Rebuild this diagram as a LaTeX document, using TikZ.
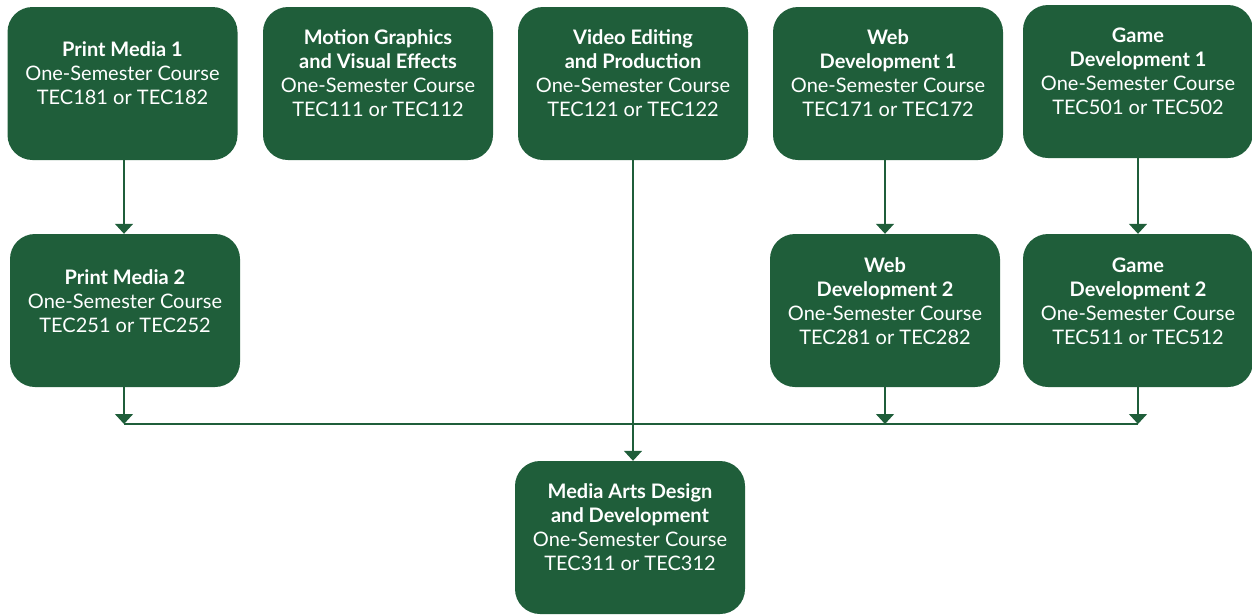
\documentclass[tikz,border=0pt]{standalone}
\usepackage{fontspec}
\setmainfont{Lato}
\usetikzlibrary{arrows.meta,positioning,calc}
\definecolor{course}{HTML}{1F5E3A}
\tikzset{
  x=1pt, y=-1pt,
  coursebox/.style={draw=none, fill=course, rounded corners=25pt,
    minimum width=230pt, minimum height=153pt, inner sep=0pt},
  coursetext/.style={text=white, align=center, inner sep=0pt,
    font=\fontsize{20}{24}\selectfont},
  link/.style={draw=course, line width=1.4pt,
    -{Triangle[width=18pt,length=10pt]}},
  busline/.style={draw=course, line width=1.4pt}
}
\newcommand{\crs}[3]{\textbf{#1}\\#2\\#3}
\begin{document}
\begin{tikzpicture}
\useasboundingbox (0,0) rectangle (1252,614);

% first row of courses
\node[coursebox] (pm1) at (122.5,83.5) {};
\node[coursebox] (mg)  at (378,83.5) {};
\node[coursebox] (ve)  at (633,83.5) {};
\node[coursebox] (wd1) at (888,83.5) {};
\node[coursebox] (gd1) at (1138,81.5) {};

% second row of courses
\node[coursebox] (pm2) at (125,310.5) {};
\node[coursebox] (wd2) at (885,310.5) {};
\node[coursebox] (gd2) at (1138,310.5) {};

% final course
\node[coursebox] (mad) at (630,537.5) {};

% course labels
\node[coursetext] (pm1t) at ($(pm1.north)+(0,66)$) {\crs{Print Media 1}{One-Semester Course}{TEC181 or TEC182}};
\node[coursetext] (mgt)  at ($(mg.north)+(0,66)$) {\textbf{Motion Graphics}\\\textbf{and Visual Effects}\\One-Semester Course\\TEC111 or TEC112};
\node[coursetext] (vet)  at ($(ve.north)+(0,66)$) {\textbf{Video Editing}\\\textbf{and Production}\\One-Semester Course\\TEC121 or TEC122};
\node[coursetext] (wd1t) at ($(wd1.north)+(0,66)$) {\textbf{Web}\\\textbf{Development 1}\\One-Semester Course\\TEC171 or TEC172};
\node[coursetext] (gd1t) at ($(gd1.north)+(0,66)$) {\textbf{Game}\\\textbf{Development 1}\\One-Semester Course\\TEC501 or TEC502};
\node[coursetext] (pm2t) at ($(pm2.north)+(0,67)$) {\crs{Print Media 2}{One-Semester Course}{TEC251 or TEC252}};
\node[coursetext] (wd2t) at ($(wd2.north)+(0,67)$) {\textbf{Web}\\\textbf{Development 2}\\One-Semester Course\\TEC281 or TEC282};
\node[coursetext] (gd2t) at ($(gd2.north)+(0,67)$) {\textbf{Game}\\\textbf{Development 2}\\One-Semester Course\\TEC511 or TEC512};
\node[coursetext] (madt) at ($(mad.north)+(0,66)$) {\textbf{Media Arts Design}\\\textbf{and Development}\\One-Semester Course\\TEC311 or TEC312};

% prerequisite links, kept vertical
\coordinate (bus) at (0,424);
\coordinate (pmx) at (124,0);
\draw[link] (pmx |- pm1.south) -- (pmx |- pm2.north);
\draw[link] (wd2.north |- wd1.south) -- (wd2.north);
\draw[link] (gd1.south) -- (gd2.north);
\draw[link] (pmx |- pm2.south) -- (pmx |- bus);
\draw[link] (wd2.south) -- (wd2.south |- bus);
\draw[link] (gd2.south) -- (gd2.south |- bus);
\draw[busline] (pmx |- bus) -- (gd2.south |- bus);
\draw[link] (ve.south) -- (ve.south |- mad.north);
\end{tikzpicture}
\end{document}
